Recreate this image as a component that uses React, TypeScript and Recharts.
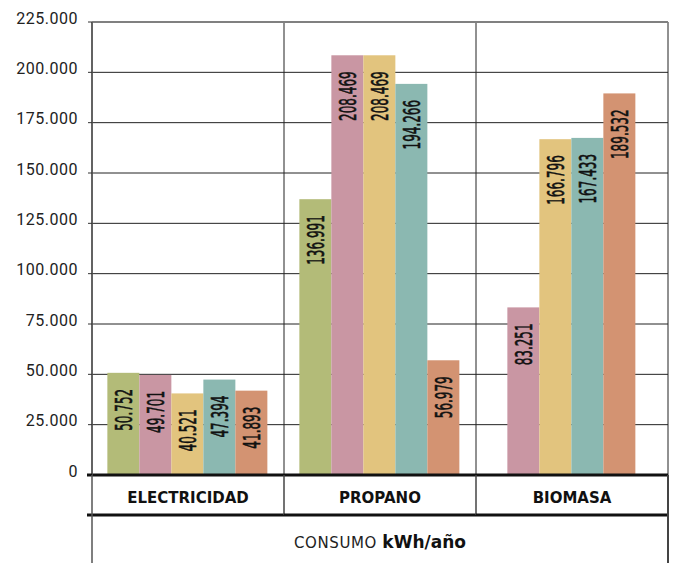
import React from 'react';
import { BarChart, Bar, XAxis, YAxis, CartesianGrid, ReferenceLine } from 'recharts';

// consumo anual por fuente de energía (kWh/año)
const categories = ['ELECTRICIDAD', 'PROPANO', 'BIOMASA'];
const serie1 = [50752, 136991, null];
const serie2 = [49701, 208469, 83251];
const serie3 = [40521, 208469, 166796];
const serie4 = [47394, 194266, 167433];
const serie5 = [41893, 56979, 189532];
const yTicks = [0, 25000, 50000, 75000, 100000, 125000, 150000, 175000, 200000, 225000];

const series = [
  { key: 'serie1', values: serie1, color: '#b3bb78' },
  { key: 'serie2', values: serie2, color: '#c996a3' },
  { key: 'serie3', values: serie3, color: '#e2c47e' },
  { key: 'serie4', values: serie4, color: '#8bb8b1' },
  { key: 'serie5', values: serie5, color: '#d39372' },
];

const data = categories.map((categoria, i) => {
  const row: any = { categoria };
  series.forEach((s) => (row[s.key] = s.values[i]));
  return row;
});

const fmt = (v: number) => String(v).replace(/\B(?=(\d{3})+(?!\d))/g, '.');

const YTick = (props: any) => {
  const { x, y, payload } = props;
  return (
    <text x={x} y={y - 4} textAnchor="end" dominantBaseline="central" fontFamily="Roboto" fontSize={16} fill="#222" letterSpacing={0.5}>
      {fmt(payload.value)}
    </text>
  );
};

const XTick = (props: any) => {
  const { x, y, payload, index } = props;
  const half = payload.offset || 96;
  const left = x - half;
  const right = x + half;
  const last = index === categories.length - 1;
  return (
    <g>
      <text x={x} y={y + 28} textAnchor="middle" fontFamily="DejaVu Sans" fontWeight="bold" fontSize={15} fill="#111">
        {payload.value}
      </text>
      <line x1={index === 0 ? left - 5 : left} x2={right} y1={y + 40} y2={y + 40} stroke="#111" strokeWidth={3} />
      {index === 0 && <line x1={left - 5} x2={left} y1={y} y2={y} stroke="#111" strokeWidth={3} />}
      {index === 0 && <line x1={left} x2={left} y1={y} y2={y + 88} stroke="#555" strokeWidth={1.5} />}
      <line x1={right} x2={right} y1={y} y2={last ? y + 88 : y + 40} stroke="#444" strokeWidth={last ? 2 : 1.5} />
    </g>
  );
};

const AxisTitle = (props: any) => {
  const { x, y, width } = props.viewBox;
  return (
    <text x={x + width / 2} y={y + 73} textAnchor="middle" fill="#111">
      <tspan fontFamily="DejaVu Sans" fontSize={15} fill="#222" letterSpacing={0.6}>CONSUMO </tspan>
      <tspan fontFamily="DejaVu Sans" fontSize={17} fontWeight="bold">kWh/año</tspan>
    </text>
  );
};

// bars with the value written upwards inside; groups with an empty slot get re-centred
const makeShape = (key: string) => (props: any) => {
  const { x, y, width, height, fill, payload } = props;
  const v = payload[key];
  if (v == null || !height) return <g />;
  const missing = series.filter((s) => payload[s.key] == null).length;
  const bx = x - (missing * width) / 2;
  const cx = bx + width / 2;
  return (
    <g>
      <rect x={bx} y={y} width={width} height={height} fill={fill} />
      <text
        transform={`translate(${cx + 8.5}, ${y + 16}) rotate(-90) scale(0.58, 1)`}
        textAnchor="end"
        fontFamily="DejaVu Sans Condensed, DejaVu Sans"
        fontSize={23}
        fill="#111"
        stroke="#111"
        strokeWidth={0.6}
      >
        {fmt(v)}
      </text>
    </g>
  );
};

const App = () => {
  return (
    <div style={{ position: 'absolute', left: 0, top: 0 }}>
      <BarChart
        width={673}
        height={563}
        data={data}
        margin={{ top: 22, right: 5, left: 0, bottom: 0 }}
        barCategoryGap="8%"
        barGap={0}
      >
        <CartesianGrid
          stroke="#222"
          verticalCoordinatesGenerator={({ offset }: any) =>
            [...categories, ''].map((_, i) => offset.left + (offset.width * i) / categories.length)
          }
        />
        <ReferenceLine y={225000} stroke="#808080" strokeWidth={2} />
        <XAxis
          dataKey="categoria"
          height={88}
          tickSize={0}
          tickMargin={0}
          tickLine={false}
          interval={0}
          axisLine={{ stroke: '#111', strokeWidth: 3 }}
          tick={<XTick />}
          label={{ content: <AxisTitle /> }}
        />
        <YAxis
          width={92}
          domain={[0, 225000]}
          ticks={yTicks}
          interval={0}
          tickSize={4}
          tickMargin={10}
          axisLine={{ stroke: '#555', strokeWidth: 1.5 }}
          tickLine={{ stroke: '#333' }}
          tick={<YTick />}
        />
        {series.map((s) => (
          <Bar key={s.key} dataKey={s.key} fill={s.color} isAnimationActive={false} shape={makeShape(s.key)} />
        ))}
      </BarChart>
    </div>
  );
};

export default App;
